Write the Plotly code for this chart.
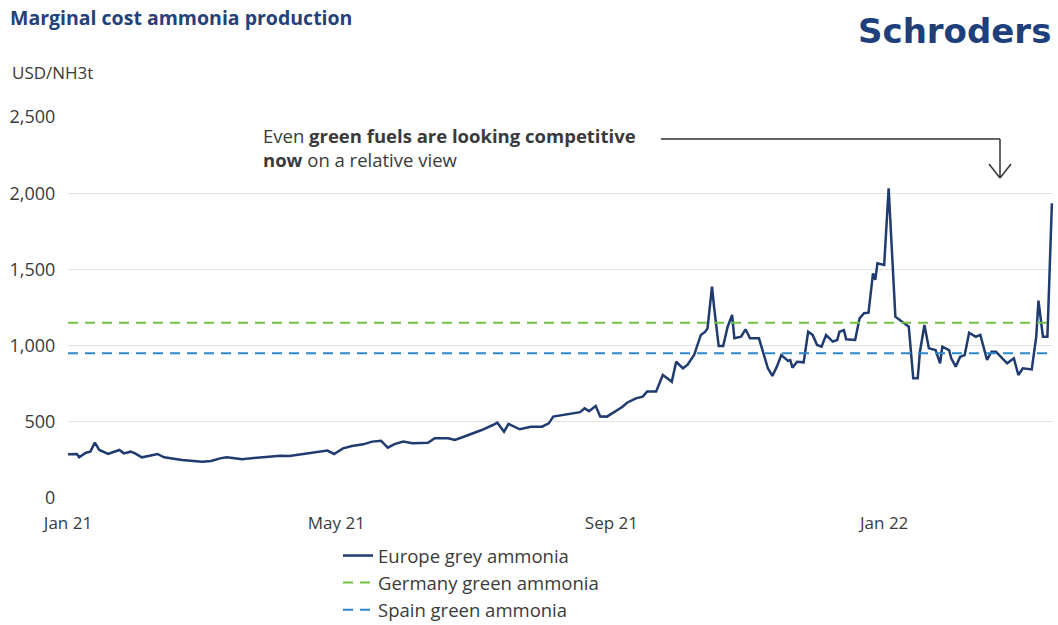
import pandas as pd
import plotly.graph_objects as go

# ---- data ----
start_date = "2021-01-01"
# days since 1 Jan 2021
grey_days = [0, 4, 5, 8, 10, 12, 14, 18, 20, 23, 25, 28, 30, 33, 36, 40, 43, 48, 51, 56,
             60, 64, 68, 71, 74, 78, 81, 86, 90, 95, 99, 104, 108, 113, 116, 119, 123, 127,
             132, 136, 140, 143, 146, 150, 154, 161, 164, 170, 173, 177, 181, 185, 190, 192,
             195, 197, 202, 207, 212, 215, 217, 223, 229, 231, 233, 236, 238, 241, 245, 248,
             250, 254, 257, 259, 263, 266, 268, 270, 272, 275, 277, 280, 283, 285, 286, 288,
             289, 291, 293, 295, 297, 298, 301, 303, 305, 309, 313, 315, 317, 319, 322, 323,
             324, 326, 329, 331, 333, 335, 337, 339, 342, 344, 345, 347, 348, 352, 354, 356,
             358, 360, 361, 362, 365, 367, 370, 373, 376, 378, 380, 381, 383, 385, 388, 390,
             391, 394, 395, 397, 399, 401, 403, 406, 408, 411, 413, 415, 418, 420, 423, 425,
             427, 431, 433, 434, 436, 438, 440]
grey_values = [287, 289, 267, 297, 304, 363, 315, 289, 300, 315, 293, 304, 293, 267, 276, 289,
               267, 254, 249, 243, 238, 243, 260, 267, 260, 254, 260, 267, 271, 278, 276, 287,
               293, 304, 311, 289, 326, 341, 352, 370, 376, 330, 354, 370, 359, 363, 392, 392,
               381, 402, 424, 446, 479, 494, 435, 486, 451, 468, 468, 490, 534, 550, 563, 589,
               570, 604, 535, 534, 573, 599, 625, 654, 665, 698, 698, 807, 785, 763, 894, 851,
               873, 938, 1070, 1091, 1113, 1387, 1245, 997, 997, 1124, 1201, 1048, 1058, 1107,
               1048, 1048, 851, 801, 862, 938, 900, 905, 855, 894, 890, 1091, 1070, 1004, 993,
               1070, 1026, 1037, 1091, 1102, 1041, 1037, 1179, 1212, 1216, 1474, 1431, 1540,
               1529, 2032, 1190, 1157, 1124, 785, 785, 960, 1135, 982, 971, 884, 993, 971, 917,
               862, 927, 938, 1085, 1058, 1070, 906, 960, 960, 917, 884, 917, 807, 851, 844,
               1058, 1295, 1058, 1058, 1934]
germany_green = 1150
spain_green = 950
end_day = 440.5

series_names = ["Europe grey ammonia", "Germany green ammonia", "Spain green ammonia"]
tick_dates = ["2021-01-01", "2021-05-01", "2021-09-01", "2022-01-01"]
tick_labels = ["Jan 21", "May 21", "Sep 21", "Jan 22"]
y_ticks = [0, 500, 1000, 1500, 2000, 2500]

# ---- build ----
t0 = pd.Timestamp(start_date)
x_grey = [t0 + pd.Timedelta(days=d) for d in grey_days]
x_end = t0 + pd.Timedelta(days=end_day)

NAVY = "#1f3b6f"
GREEN = "#72c145"
BLUE = "#2e88c9"
TEXT = "#3a3a3a"
FONT = "Open Sans"

fig = go.Figure()
fig.add_trace(go.Scatter(x=x_grey, y=grey_values, mode="lines", name=series_names[0],
                         line=dict(color=NAVY, width=2.5)))
fig.add_trace(go.Scatter(x=[t0, x_end], y=[germany_green, germany_green], mode="lines",
                         name=series_names[1],
                         line=dict(color=GREEN, width=2, dash="10px,7px")))
fig.add_trace(go.Scatter(x=[t0, x_end], y=[spain_green, spain_green], mode="lines",
                         name=series_names[2],
                         line=dict(color=BLUE, width=2, dash="10px,7px")))

W, H = 1058, 625
L, R, T, B = 68, 5, 117, 127
pw, ph = W - L - R, H - T - B


def px(xp):
    return (xp - L) / pw


def py(yp):
    return (H - B - yp) / ph


fig.update_layout(
    width=W, height=H,
    margin=dict(l=L, r=R, t=T, b=B, autoexpand=False),
    paper_bgcolor="white", plot_bgcolor="white",
    font=dict(family=FONT, size=17, color=TEXT),
    title=dict(text="<b>Marginal cost ammonia production</b>",
               font=dict(family=FONT, size=19.5, color="#24427a"),
               xref="container", yref="container",
               x=10 / W, xanchor="left", y=1 - 18 / H, yanchor="middle"),
    xaxis=dict(type="date", range=[t0, x_end], tickvals=tick_dates, ticktext=tick_labels,
               showgrid=False, zeroline=False, showline=False, automargin=False,
               ticks="outside", ticklen=10, tickcolor="rgba(0,0,0,0)",
               tickfont=dict(family=FONT, size=17, color=TEXT)),
    yaxis=dict(range=[0, 2500], tickvals=y_ticks, tickformat=",", showgrid=True,
               gridcolor="#e3e3e3", gridwidth=1, zeroline=False, showline=False,
               automargin=False,
               ticks="outside", ticklen=8, tickcolor="rgba(0,0,0,0)",
               tickfont=dict(family=FONT, size=18, color=TEXT)),
    showlegend=True,
    legend=dict(orientation="v", x=px(338), y=py(537), xanchor="left", yanchor="top",
                font=dict(family=FONT, size=18.5, color=TEXT), itemwidth=30,
                bgcolor="rgba(0,0,0,0)", tracegroupgap=0),
)

fig.add_annotation(text="USD/NH3t", xref="paper", yref="paper", x=px(10), y=py(72),
                   xanchor="left", yanchor="middle", showarrow=False,
                   font=dict(family=FONT, size=17, color=TEXT))
fig.add_annotation(text="<b>Schroders</b>", xref="paper", yref="paper", x=px(1053), y=py(31),
                   xanchor="right", yanchor="middle", showarrow=False,
                   font=dict(family="DejaVu Sans", size=34, color="#1d3f7c"))
fig.add_annotation(text="Even <b>green fuels are looking competitive</b><br><b>now</b> on a relative view",
                   xref="paper", yref="paper", x=px(261), y=py(147),
                   xanchor="left", yanchor="middle", align="left", showarrow=False,
                   font=dict(family=FONT, size=18.5, color=TEXT))

ARROW = "#333333"
fig.add_shape(type="line", xref="paper", yref="paper", x0=px(661), y0=py(139), x1=px(1000), y1=py(139),
              line=dict(color=ARROW, width=1.5))
fig.add_shape(type="line", xref="paper", yref="paper", x0=px(1000), y0=py(139), x1=px(1000), y1=py(178),
              line=dict(color=ARROW, width=1.5))
fig.add_shape(type="line", xref="paper", yref="paper", x0=px(989), y0=py(164), x1=px(1000), y1=py(178),
              line=dict(color=ARROW, width=1.5))
fig.add_shape(type="line", xref="paper", yref="paper", x0=px(1011), y0=py(164), x1=px(1000), y1=py(178),
              line=dict(color=ARROW, width=1.5))

fig.write_html("out.html")
